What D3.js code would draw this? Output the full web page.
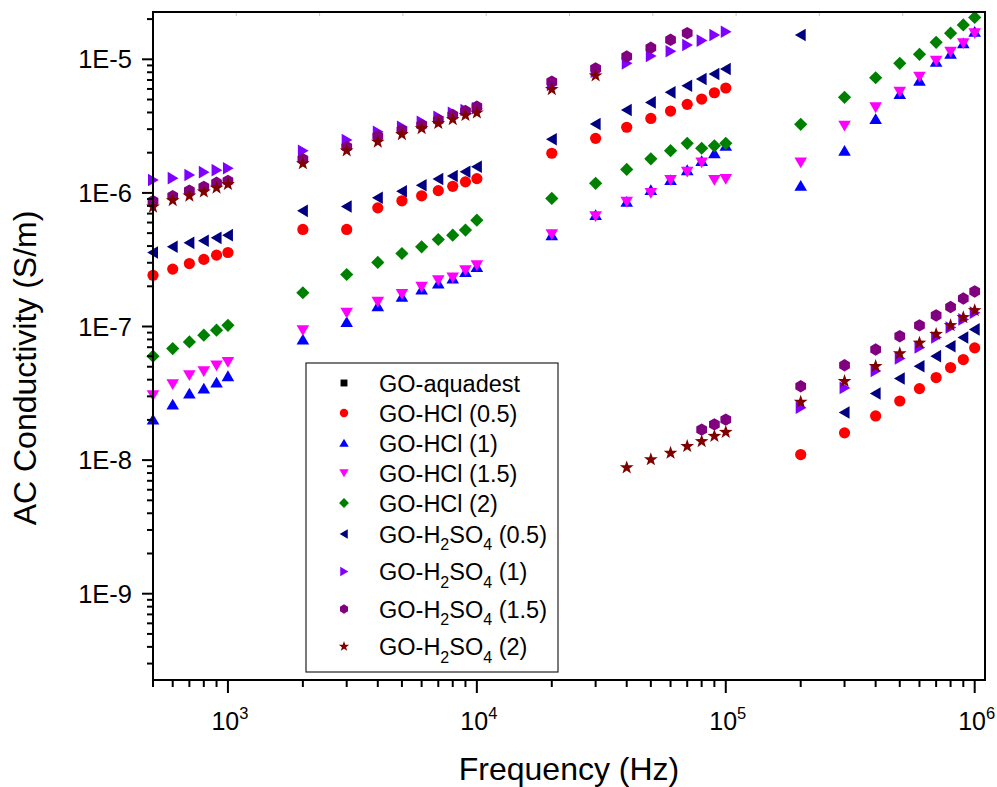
<!DOCTYPE html>
<html><head><meta charset="utf-8">
<script src="https://cdn.jsdelivr.net/npm/d3@7"></script>
<style>body{margin:0;background:#fff;} text{font-family:"Liberation Sans",Arial,sans-serif;fill:#000;}</style>
</head><body><svg id="chart" width="997" height="787"></svg>
<script>
// ---------------- DATA ----------------
const freq = [500,600,700,800,900,1000,
  2000,3000,4000,5000,6000,7000,8000,9000,10000,
  20000,30000,40000,50000,60000,70000,80000,90000,100000,
  200000,300000,400000,500000,600000,700000,800000,900000,1000000];

const seriesNames = ["GO-aquadest","GO-HCl (0.5)","GO-HCl (1)","GO-HCl (1.5)","GO-HCl (2)",
  "GO-H2SO4 (0.5)","GO-H2SO4 (1)","GO-H2SO4 (1.5)","GO-H2SO4 (2)"];

const goAquadest = freq.map(() => null);
const goHCl05 = [2.42e-7,2.69e-7,2.96e-7,3.18e-7,3.42e-7,3.58e-7,
  5.33e-7,5.33e-7,7.73e-7,8.73e-7,9.51e-7,1.04e-6,1.12e-6,1.21e-6,1.28e-6,
  1.98e-6,2.56e-6,3.10e-6,3.61e-6,4.10e-6,4.60e-6,5.04e-6,5.62e-6,6.10e-6,
  1.10e-8,1.60e-8,2.14e-8,2.77e-8,3.43e-8,4.15e-8,4.93e-8,5.66e-8,6.92e-8];
const goHCl1 = [2.01e-8,2.61e-8,3.15e-8,3.43e-8,3.81e-8,4.25e-8,
  7.99e-8,1.08e-7,1.42e-7,1.67e-7,1.89e-7,2.10e-7,2.29e-7,2.56e-7,2.79e-7,
  4.83e-7,6.82e-7,8.58e-7,1.05e-6,1.25e-6,1.48e-6,1.73e-6,1.98e-6,2.25e-6,
  1.13e-6,2.07e-6,3.57e-6,5.50e-6,6.91e-6,9.60e-6,1.10e-5,1.32e-5,1.61e-5];
const goHCl15 = [3.06e-8,3.70e-8,4.32e-8,4.63e-8,5.11e-8,5.43e-8,
  9.38e-8,1.27e-7,1.53e-7,1.75e-7,1.98e-7,2.22e-7,2.33e-7,2.64e-7,2.88e-7,
  4.90e-7,6.70e-7,8.58e-7,1.00e-6,1.25e-6,1.44e-6,1.69e-6,1.25e-6,1.27e-6,
  1.69e-6,3.18e-6,4.37e-6,5.72e-6,7.41e-6,9.77e-6,1.14e-5,1.32e-5,1.57e-5];
const goHCl2 = [6.0e-8,6.84e-8,7.67e-8,8.61e-8,9.38e-8,1.02e-7,
  1.79e-7,2.45e-7,3.02e-7,3.52e-7,3.95e-7,4.48e-7,4.83e-7,5.27e-7,6.25e-7,
  9.09e-7,1.18e-6,1.50e-6,1.80e-6,2.07e-6,2.35e-6,2.16e-6,2.25e-6,2.35e-6,
  3.26e-6,5.19e-6,7.28e-6,9.33e-6,1.09e-5,1.34e-5,1.57e-5,1.81e-5,2.06e-5];
const goH2SO405 = [3.58e-7,3.95e-7,4.23e-7,4.38e-7,4.61e-7,4.83e-7,
  7.34e-7,7.92e-7,9.19e-7,1.03e-6,1.14e-6,1.27e-6,1.34e-6,1.44e-6,1.57e-6,
  2.52e-6,3.28e-6,4.17e-6,4.76e-6,5.66e-6,6.34e-6,7.12e-6,7.76e-6,8.46e-6,
  1.52e-5,2.27e-8,3.15e-8,4.08e-8,5.04e-8,6.0e-8,7.11e-8,8.28e-8,9.51e-8];
const goH2SO41 = [1.25e-6,1.29e-6,1.36e-6,1.43e-6,1.48e-6,1.53e-6,
  2.07e-6,2.49e-6,2.87e-6,3.13e-6,3.41e-6,3.72e-6,3.98e-6,4.17e-6,4.30e-6,
  6.42e-6,8.07e-6,9.33e-6,1.06e-5,1.15e-5,1.28e-5,1.38e-5,1.52e-5,1.61e-5,
  2.47e-8,3.47e-8,4.65e-8,5.76e-8,6.96e-8,8.28e-8,9.84e-8,1.13e-7,1.27e-7];
const goH2SO415 = [8.68e-7,9.46e-7,1.04e-6,1.11e-6,1.19e-6,1.23e-6,
  1.79e-6,2.21e-6,2.66e-6,2.95e-6,3.22e-6,3.51e-6,3.83e-6,4.10e-6,4.42e-6,
  6.80e-6,8.56e-6,1.05e-5,1.22e-5,1.40e-5,1.57e-5,1.69e-8,1.85e-8,2.01e-8,
  3.57e-8,5.13e-8,6.73e-8,8.46e-8,1.02e-7,1.21e-7,1.40e-7,1.62e-7,1.83e-7];
const goH2SO42 = [7.87e-7,8.79e-7,9.51e-7,1.02e-6,1.09e-6,1.16e-6,
  1.66e-6,2.07e-6,2.41e-6,2.74e-6,3.04e-6,3.32e-6,3.55e-6,3.81e-6,3.98e-6,
  5.96e-6,7.54e-6,8.79e-9,1.01e-8,1.13e-8,1.27e-8,1.38e-8,1.51e-8,1.62e-8,
  2.72e-8,3.89e-8,5.04e-8,6.28e-8,7.54e-8,8.76e-8,1.02e-7,1.17e-7,1.32e-7];

const xMajorTicks = [1e3,1e4,1e5,1e6];
const yMajorTicks = [1e-9,1e-8,1e-7,1e-6,1e-5];

// ---------------- STYLE ----------------
const seriesValues = [goAquadest,goHCl05,goHCl1,goHCl15,goHCl2,goH2SO405,goH2SO41,goH2SO415,goH2SO42];
const colors = ["#000000","#FF0000","#0000FF","#FF00FF","#008000","#000080","#8000FF","#800080","#800000"];
const shapes = ["square","circle","up","down","diamond","left","right","hexagon","star"];

const svg = d3.select("#chart");
svg.append("rect").attr("width",997).attr("height",787).attr("fill","#fff");

const L = 153, R = 985, T = 12, B = 680;
const x = d3.scaleLog().domain([500, 1.1e6]).range([L, R]);
const y = d3.scaleLog().domain([2.26e-10, 2.26e-5]).range([B, T]);

function shapePath(kind, s) {
  const p = d3.path();
  switch (kind) {
    case "circle": p.arc(0,0,5.6*s,0,2*Math.PI); break;
    case "square": p.rect(-4.6*s,-4.6*s,9.2*s,9.2*s); break;
    case "up": p.moveTo(0,-5.8*s); p.lineTo(6.3*s,5*s); p.lineTo(-6.3*s,5*s); p.closePath(); break;
    case "down": p.moveTo(0,5.8*s); p.lineTo(6.3*s,-5*s); p.lineTo(-6.3*s,-5*s); p.closePath(); break;
    case "left": p.moveTo(-5.8*s,0); p.lineTo(5*s,-6.3*s); p.lineTo(5*s,6.3*s); p.closePath(); break;
    case "right": p.moveTo(5.8*s,0); p.lineTo(-5*s,-6.3*s); p.lineTo(-5*s,6.3*s); p.closePath(); break;
    case "diamond": p.moveTo(0,-6.6*s); p.lineTo(6.6*s,0); p.lineTo(0,6.6*s); p.lineTo(-6.6*s,0); p.closePath(); break;
    case "hexagon": for (let k=0;k<6;k++){const a=(-90+60*k)*Math.PI/180; const px=6.2*s*Math.cos(a), py=6.2*s*Math.sin(a); if(k===0)p.moveTo(px,py); else p.lineTo(px,py);} p.closePath(); break;
    case "star": for (let k=0;k<10;k++){const a=(-90+36*k)*Math.PI/180; const rr=(k%2===0?7.2:2.9)*s; const px=rr*Math.cos(a), py=rr*Math.sin(a); if(k===0)p.moveTo(px,py); else p.lineTo(px,py);} p.closePath(); break;
  }
  return p.toString();
}

// faint top ticks
const topLin = d3.scaleLinear().domain([0,10]).range([L, L+833]);
svg.append("g").selectAll("line").data(d3.range(1,10)).join("line")
  .attr("x1",d=>topLin(d)).attr("x2",d=>topLin(d)).attr("y1",T+1).attr("y2",T+4)
  .attr("stroke","#c8c8c8").attr("stroke-width",1);

// data points
const plot = svg.append("g");
seriesValues.forEach((vals, si) => {
  const pts = freq.map((f,i)=>({f, v: vals[i]})).filter(d => d.v != null);
  plot.append("g").selectAll("path").data(pts).join("path")
    .attr("d", shapePath(shapes[si], 1))
    .attr("transform", d => `translate(${x(d.f)},${y(d.v)})`)
    .attr("fill", colors[si]);
});

// frame
svg.append("rect").attr("x",L).attr("y",T).attr("width",R-L).attr("height",B-T)
  .attr("fill","none").attr("stroke","#000").attr("stroke-width",2);

// minor tick values
function minors(lo, hi) {
  const out = [];
  for (let e = Math.floor(Math.log10(lo)); e <= Math.ceil(Math.log10(hi)); e++)
    for (let k = 2; k <= 9; k++) { const v = k*Math.pow(10,e); if (v >= lo*0.999 && v <= hi) out.push(v); }
  return out;
}
const xMin = minors(500, 1.1e6), yMin = minors(2.26e-10, 2.26e-5);

const gx = svg.append("g");
gx.selectAll(".mi").data(xMin).join("line").attr("x1",d=>x(d)).attr("x2",d=>x(d))
  .attr("y1",B).attr("y2",B+7).attr("stroke","#000").attr("stroke-width",2);
gx.selectAll(".ma").data(xMajorTicks).join("line").attr("x1",d=>x(d)).attr("x2",d=>x(d))
  .attr("y1",B).attr("y2",B+13).attr("stroke","#000").attr("stroke-width",2);
const xl = gx.selectAll("text").data(xMajorTicks).join("text")
  .attr("x",d=>x(d)+2).attr("y",730).attr("text-anchor","middle").attr("font-size",25);
xl.append("tspan").text("10");
xl.append("tspan").attr("font-size",16.5).attr("dy",-11).text(d=>Math.round(Math.log10(d)));

const gy = svg.append("g");
gy.selectAll(".mi").data(yMin).join("line").attr("y1",d=>y(d)).attr("y2",d=>y(d))
  .attr("x1",L).attr("x2",L-6).attr("stroke","#000").attr("stroke-width",2);
gy.selectAll(".ma").data(yMajorTicks).join("line").attr("y1",d=>y(d)).attr("y2",d=>y(d))
  .attr("x1",L).attr("x2",L-11).attr("stroke","#000").attr("stroke-width",2);
gy.selectAll("text").data(yMajorTicks).join("text")
  .attr("x",132).attr("y",d=>y(d)+9).attr("text-anchor","end").attr("font-size",25.5)
  .text(d=>"1E" + Math.round(Math.log10(d)));

// axis titles
svg.append("text").attr("x",569).attr("y",780).attr("text-anchor","middle").attr("font-size",32)
  .text("Frequency (Hz)");
svg.append("text").attr("transform","translate(36,368) rotate(-90)").attr("text-anchor","middle")
  .attr("font-size",32).text("AC Conductivity (S/m)");

// legend
const lg = svg.append("g");
lg.append("rect").attr("x",306).attr("y",363).attr("width",252).attr("height",309)
  .attr("fill","#fff").attr("stroke","#222").attr("stroke-width",1.2);
let ly = 383;
seriesNames.forEach((name, i) => {
  const hasSub = name.includes("H2SO4");
  if (i > 0) ly += hasSub ? (seriesNames[i-1].includes("H2SO4") ? 37.5 : 31) : 30;
  lg.append("path").attr("d", shapePath(shapes[i], 0.75))
    .attr("transform", `translate(344,${ly})`).attr("fill", colors[i]);
  const t = lg.append("text").attr("x",379).attr("y",ly+8.5).attr("font-size",23.5);
  if (hasSub) {
    const rest = name.replace("GO-H2SO4","");
    t.append("tspan").text("GO-H");
    t.append("tspan").attr("font-size",16).attr("dy",7.5).text("2");
    t.append("tspan").attr("dy",-7.5).text("SO");
    t.append("tspan").attr("font-size",16).attr("dy",7.5).text("4");
    t.append("tspan").attr("dy",-7.5).text(rest);
  } else {
    t.text(name);
  }
});
</script></body></html>
